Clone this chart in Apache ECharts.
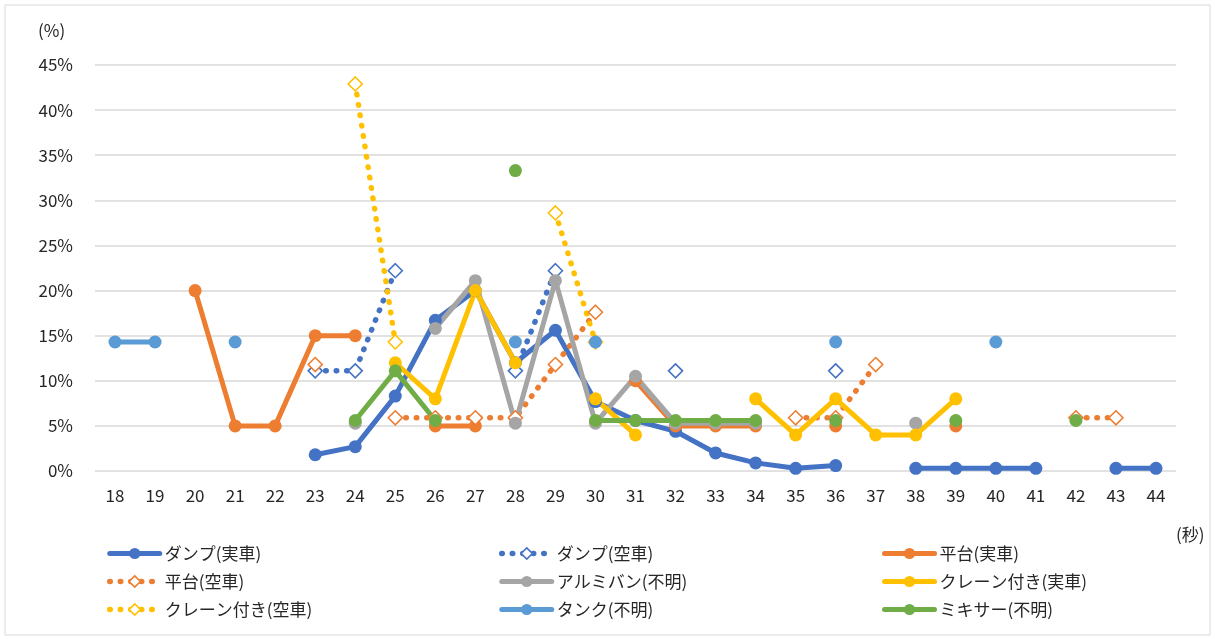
<!DOCTYPE html>
<html>
<head>
<meta charset="utf-8">
<script src="https://cdn.jsdelivr.net/npm/echarts@6/dist/echarts.min.js"></script>
<style>
  html, body { margin: 0; padding: 0; background: #fff; }
  #container { width: 1215px; height: 639px; }
</style>
</head>
<body>
<div id="container"></div>
<script type="text/javascript">
// 横軸（秒）
var categories = ['18','19','20','21','22','23','24','25','26','27','28','29','30','31','32','33','34','35','36','37','38','39','40','41','42','43','44'];
var yTicks = [0, 5, 10, 15, 20, 25, 30, 35, 40, 45];

// 各系列（%）
var dumpReal   = [null,null,null,null,null,1.8,2.7,8.3,16.7,20.0,12.0,15.6,7.7,5.6,4.4,2.0,0.9,0.3,0.6,null,0.3,0.3,0.3,0.3,null,0.3,0.3];
var dumpEmpty  = [null,null,null,null,null,11.1,11.1,22.2,null,null,11.1,22.2,null,null,11.1,null,null,null,11.1,null,null,null,null,null,null,null,null];
var platReal   = [null,null,20,5,5,15,15,null,5,5,null,null,null,10,5,5,5,null,5,null,null,5,null,null,null,null,null];
var platEmpty  = [null,null,null,null,null,11.8,null,5.9,5.9,5.9,5.9,11.8,17.6,null,null,null,null,5.9,5.9,11.8,null,null,null,null,5.9,5.9,null];
var alumi      = [null,null,null,null,null,null,5.3,null,15.8,21.1,5.3,21.1,5.3,10.5,5.3,5.3,5.3,null,null,null,5.3,null,null,null,null,null,null];
var craneReal  = [null,null,null,null,null,null,null,12,8,20,12,null,8,4,null,null,8,4,8,4,4,8,null,null,null,null,null];
var craneEmpty = [null,null,null,null,null,null,42.9,14.3,null,null,null,28.6,14.3,null,null,null,null,null,null,null,null,null,null,null,null,null,null];
var tank       = [14.3,14.3,null,14.3,null,null,null,null,null,null,14.3,null,14.3,null,null,null,null,null,14.3,null,null,null,14.3,null,null,null,null];
var mixer      = [null,null,null,null,null,null,5.6,11.1,5.6,null,33.3,null,5.6,5.6,5.6,5.6,5.6,null,5.6,null,null,5.6,null,null,5.6,null,null];

var FONT = '"Noto Sans CJK JP", "Noto Sans", sans-serif';

function solid(name, data, color) {
    return {
        name: name, type: 'line', data: data,
        connectNulls: false, showAllSymbol: true,
        symbol: 'circle', symbolSize: 13,
        itemStyle: { color: color },
        lineStyle: { color: color, width: 5, cap: 'round', join: 'round' },
        emphasis: { disabled: true }
    };
}
function dotted(name, data, color) {
    return {
        name: name, type: 'line', data: data,
        connectNulls: false, showAllSymbol: true,
        symbol: 'diamond', symbolSize: 14,
        itemStyle: { color: '#fff', borderColor: color, borderWidth: 1.6 },
        lineStyle: { color: color, width: 5.5, type: [0.5, 10], cap: 'round' },
        emphasis: { disabled: true }
    };
}

var dom = document.getElementById("container");
var myChart = echarts.init(dom, null, { renderer: 'canvas' });

var legendBase = {
    orient: 'vertical', top: 540, itemGap: 11,
    itemWidth: 50, itemHeight: 14,
    itemStyle: { borderWidth: 'inherit' },
    lineStyle: { width: 'inherit' },
    textStyle: { fontFamily: FONT, fontSize: 17, color: '#262626' },
    selectedMode: false
};

var option = {
    animation: false,
    backgroundColor: '#fff',
    grid: { left: 95, right: 39, top: 65, bottom: 168 },
    graphic: [
        { type: 'rect', shape: { x: 5, y: 5, width: 1205, height: 630 },
          style: { fill: 'none', stroke: '#d9d9d9', lineWidth: 1 }, silent: true },
        { type: 'text', left: 38, top: 22,
          style: { text: '(%)', font: '17px ' + FONT, fill: '#262626' } },
        { type: 'text', left: 1176, top: 526,
          style: { text: '(秒)', font: '17px ' + FONT, fill: '#262626' } }
    ],
    legend: [
        Object.assign({}, legendBase, { left: 102, data: ['ダンプ(実車)', '平台(空車)', 'クレーン付き(空車)'] }),
        Object.assign({}, legendBase, { left: 494, data: ['ダンプ(空車)', 'アルミバン(不明)', 'タンク(不明)'] }),
        Object.assign({}, legendBase, { left: 877, data: ['平台(実車)', 'クレーン付き(実車)', 'ミキサー(不明)'] })
    ],
    xAxis: {
        type: 'category', data: categories, boundaryGap: true,
        axisLine: { show: false }, axisTick: { show: false },
        axisLabel: { fontFamily: FONT, fontSize: 17, color: '#262626', margin: 16 }
    },
    yAxis: {
        type: 'value', min: yTicks[0], max: yTicks[yTicks.length - 1], interval: 5,
        axisLine: { show: false }, axisTick: { show: false },
        axisLabel: { fontFamily: FONT, fontSize: 17, color: '#262626', margin: 22,
                     formatter: '{value}%' },
        splitLine: { lineStyle: { color: '#d9d9d9', width: 1.5 } }
    },
    series: [
        solid('ダンプ(実車)', dumpReal, '#4472C4'),
        dotted('ダンプ(空車)', dumpEmpty, '#4472C4'),
        solid('平台(実車)', platReal, '#ED7D31'),
        dotted('平台(空車)', platEmpty, '#ED7D31'),
        solid('アルミバン(不明)', alumi, '#A5A5A5'),
        solid('クレーン付き(実車)', craneReal, '#FFC000'),
        dotted('クレーン付き(空車)', craneEmpty, '#FFC000'),
        solid('タンク(不明)', tank, '#5B9BD5'),
        solid('ミキサー(不明)', mixer, '#70AD47')
    ]
};

myChart.setOption(option);
</script>
</body>
</html>
